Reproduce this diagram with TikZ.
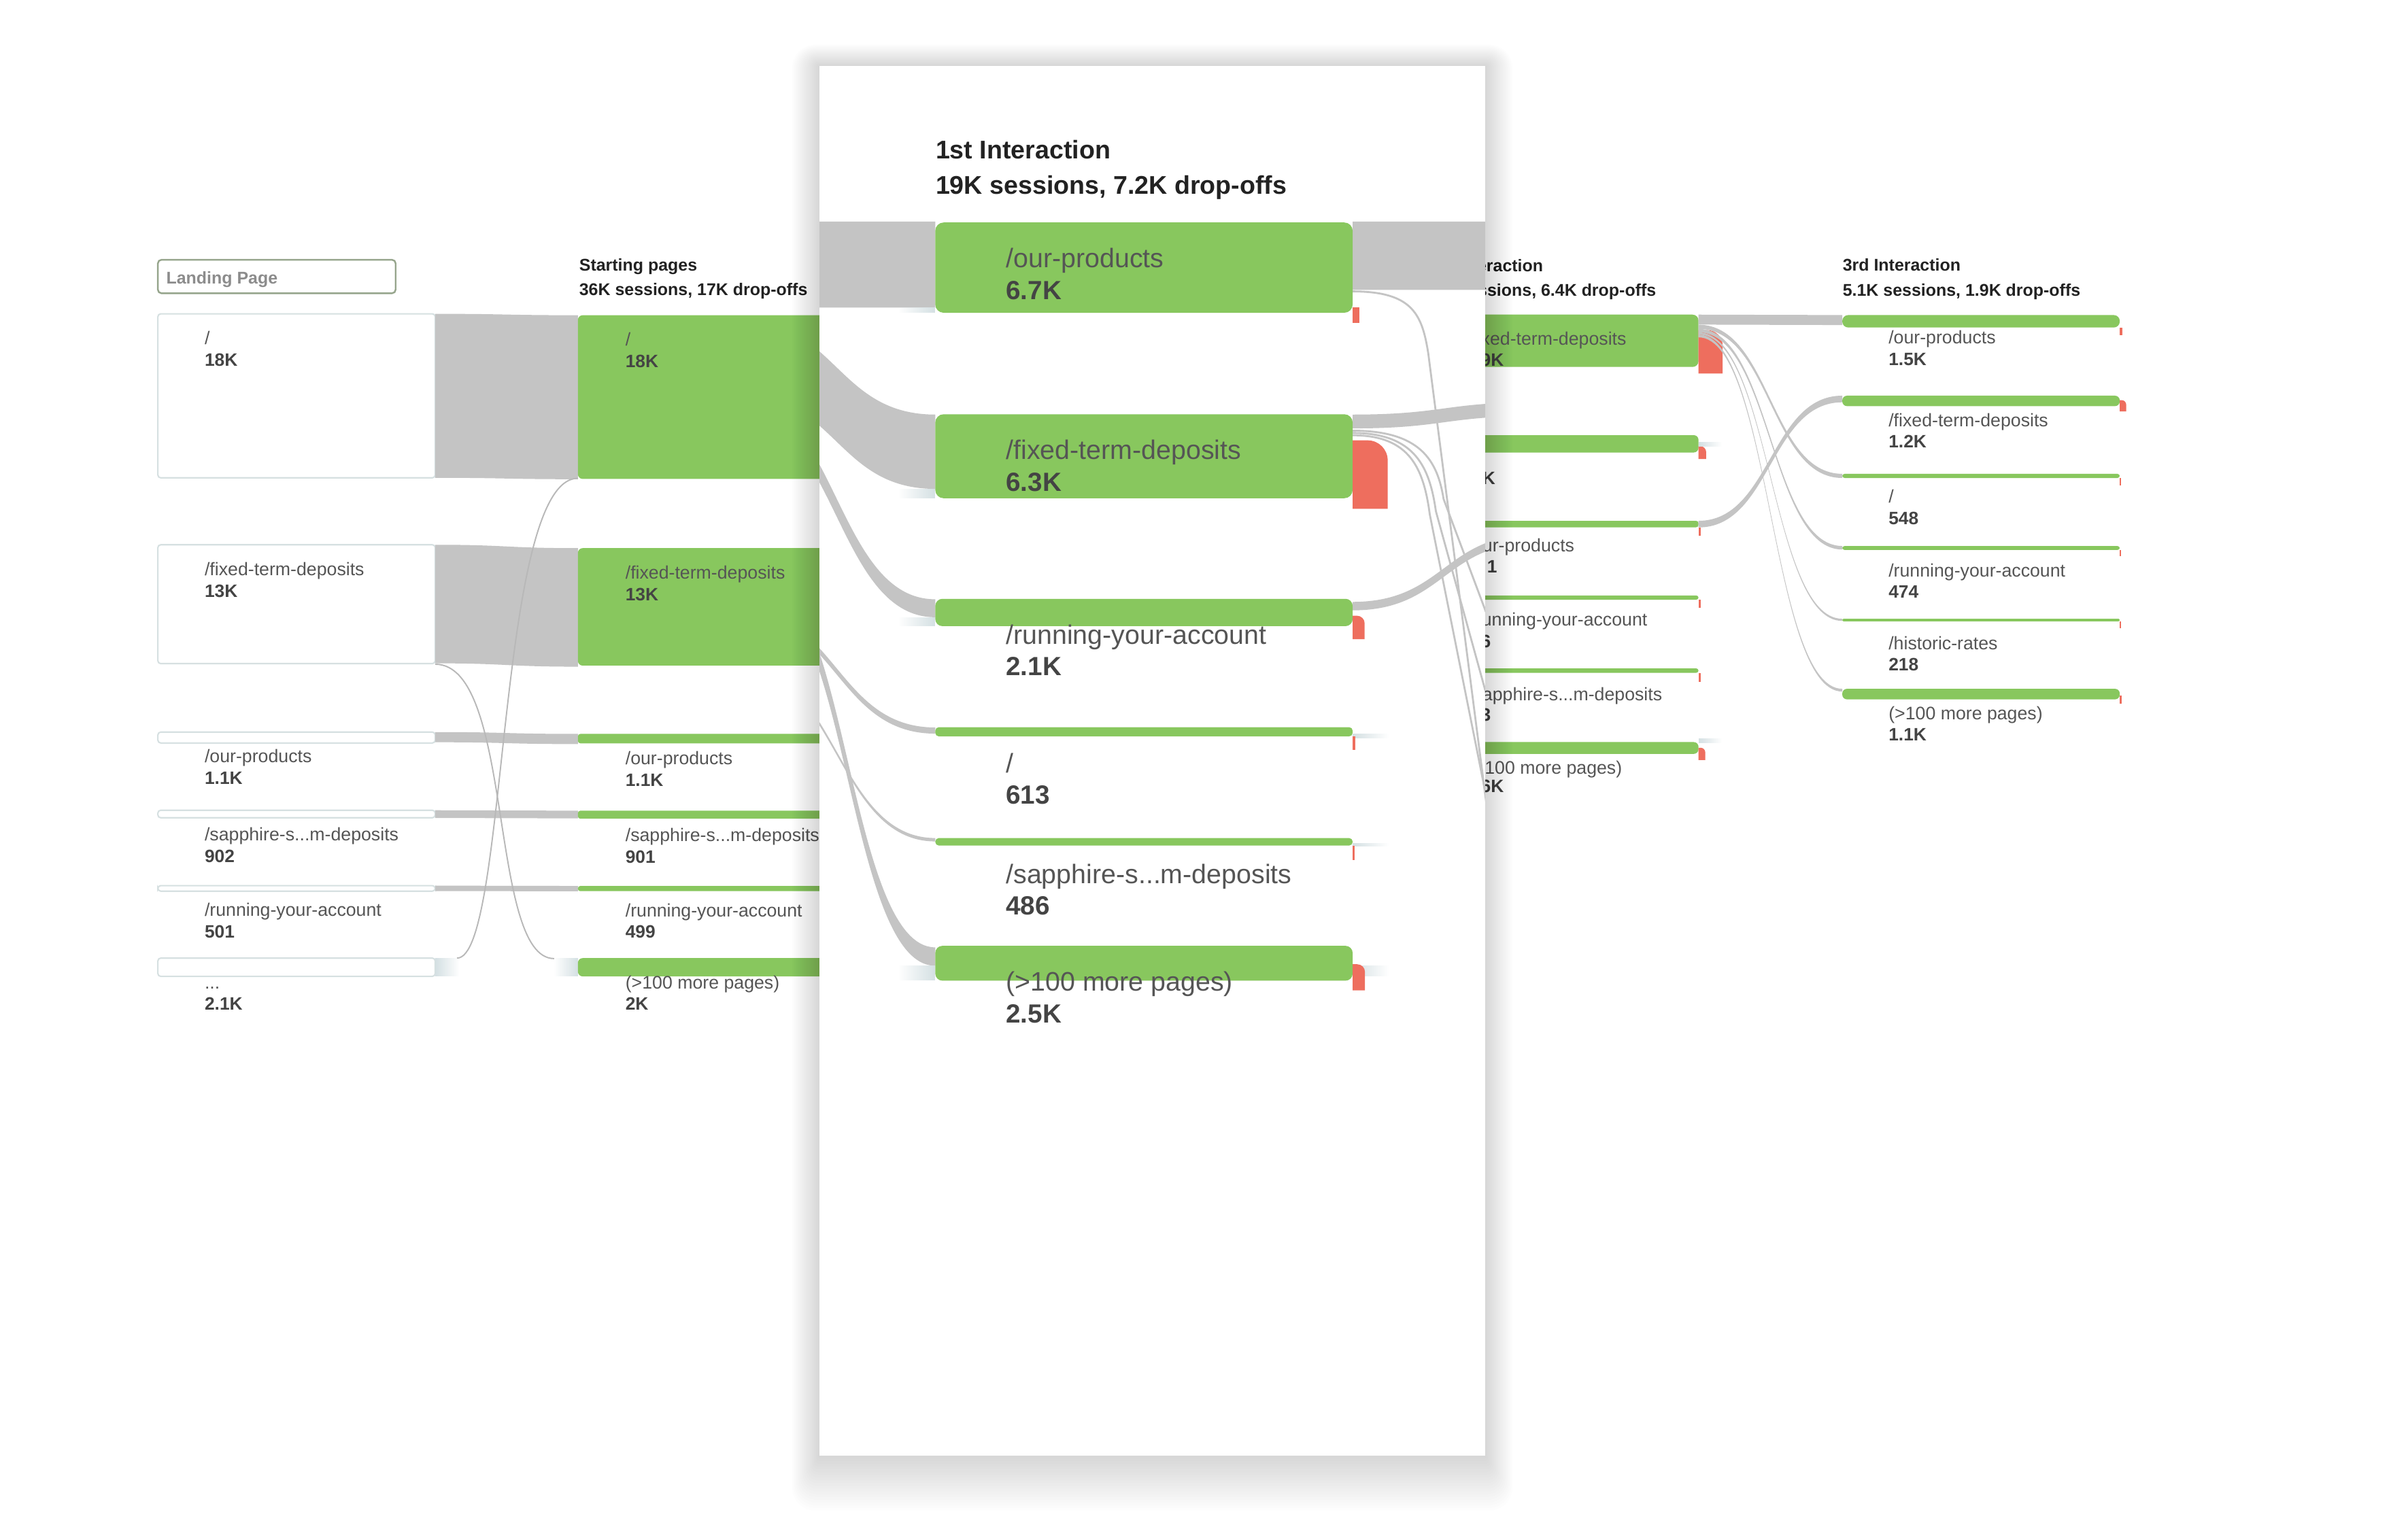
\documentclass[tikz,border=0pt]{standalone}
\usepackage{fontspec}
\setmainfont{Liberation Sans}
\usepackage{tikz}
\usetikzlibrary{fadings}

\definecolor{gabar}{RGB}{136,199,94}
\definecolor{galink}{RGB}{196,196,196}
\definecolor{gadrop}{RGB}{238,110,94}
\definecolor{gatext}{RGB}{85,85,85}
\definecolor{ganum}{RGB}{68,68,68}
\definecolor{gahead}{RGB}{34,34,34}
\definecolor{gaframe}{RGB}{214,224,225}
\definecolor{gastub}{RGB}{212,224,227}
\definecolor{selframe}{RGB}{150,165,140}
\definecolor{seltext}{RGB}{140,140,140}

% label and count under a bar (top of bar given)
\newcommand\pagetext[5]{%
	\node[lbl] (#1) at (#2,#3+20) {#4};
	\node[num] (#1n) at (#2,#3+34) {#5};}
\newcommand\bigtext[5]{%
	\node[biglbl] (#1) at (#2,#3+29.5) {#4};
	\node[bignum] (#1n) at (#2,#3+50) {#5};}
% flow ribbon: x0, top0, x1, top1, width
\newcommand\ribbon[5]{%
	\fill[galink] (#1,#2) .. controls ({(#1+#3)/2},#2) and ({(#1+#3)/2},#4) .. (#3,#4)
		-- (#3,#4+#5) .. controls ({(#1+#3)/2},#4+#5) and ({(#1+#3)/2},#2+#5) .. (#1,#2+#5) -- cycle;}
% drop-off piece: x0, top, x1, bottom, radius
\newcommand\dropoff[5]{%
	\fill[gadrop] (#1,#4) -- (#1,#2) -- ({#3-#5},#2) .. controls ({#3-0.45*#5},#2) and (#3,{#2+0.45*#5}) .. (#3,{#2+#5}) -- (#3,#4) -- cycle;}

\begin{document}
\begin{tikzpicture}[x=0.022583cm, y=-0.022583cm]
\tikzset{
	lbl/.style = {anchor=base west, inner sep=0, text=gatext, font=\fontsize{7.6}{9}\selectfont},
	num/.style = {anchor=base west, inner sep=0, text=ganum, font=\bfseries\fontsize{7.5}{9}\selectfont},
	hdr/.style = {anchor=base west, inner sep=0, text=gahead, font=\bfseries\fontsize{7.1}{9}\selectfont},
	biglbl/.style = {anchor=base west, inner sep=0, text=gatext, font=\fontsize{11.2}{13}\selectfont},
	bignum/.style = {anchor=base west, inner sep=0, text=ganum, font=\bfseries\fontsize{11}{13}\selectfont},
	bighdr/.style = {anchor=base west, inner sep=0, text=gahead, font=\bfseries\fontsize{10.7}{13}\selectfont},
	whitebox/.style = {fill=white, draw=gaframe, line width=0.6pt, rounded corners=1.2pt},
	greenbar/.style = {fill=gabar, rounded corners=#1},
	greenbar/.default = 1pt,
	thinlink/.style = {draw=galink, line width=0.8pt},
	crosslink/.style = {draw=black!28, line width=0.55pt},
	stubeast/.style = {fill=gastub, path fading=east},
	stubwest/.style = {fill=gastub, path fading=west}
}
\useasboundingbox (0,0) rectangle (1568,992.8);
\fill[white] (0,0) rectangle (1568,992.8);

% landing pages
\draw[fill=white, draw=selframe, line width=0.7pt, rounded corners=1.5pt] (102.8,169.2) rectangle (257.6,191);
\node[hdr, text=seltext] (sel) at (108,185) {Landing Page};
\draw[whitebox] (102.8,204.4) rectangle (283.4,311.2);
\draw[whitebox] (102.8,354.8) rectangle (283.4,432.2);
\draw[whitebox] (102.8,476.8) rectangle (283.4,483.9);
\draw[whitebox] (102.8,527.7) rectangle (283.4,532.6);
\draw[whitebox] (102.8,576.8) rectangle (283.4,580.4);
\draw[whitebox] (102.8,624) rectangle (283.4,635.9);
\pagetext{l1}{133}{204.4}{/}{18K}
\pagetext{l2}{133}{354.8}{/fixed-term-deposits}{13K}
\pagetext{l3}{133}{476.8}{/our-products}{1.1K}
\pagetext{l4}{133}{527.7}{/sapphire-s...m-deposits}{902}
\pagetext{l5}{133}{576.8}{/running-your-account}{501}
\pagetext{l6}{133}{624}{...}{2.1K}

\ribbon{283.4}{204.4}{376.3}{205.3}{106.8}
\ribbon{283.4}{354.8}{376.3}{357}{77.2}
\ribbon{283.4}{476.8}{376.3}{478}{6.6}
\ribbon{283.4}{527.7}{376.3}{528}{5}
\ribbon{283.4}{576.8}{376.3}{577}{3.5}
\fill[stubeast] (283.4,624) rectangle (299,635.9);
\fill[stubwest] (360.8,624) rectangle (376.3,635.9);
\draw[crosslink] (297.6,624) .. controls (331,624) and (323,311.5) .. (376.3,311.5);
\draw[crosslink] (283.4,432.6) .. controls (335,432.6) and (318,624.3) .. (360.8,624.3);

% starting pages
\node[hdr] (h1a) at (376.9,176.3) {Starting pages};
\node[hdr] (h1b) at (376.9,192.2) {36K sessions, 17K drop-offs};
\fill[greenbar=2pt] (376.3,205.3) rectangle (545,311.9);
\fill[greenbar=2pt] (376.3,357) rectangle (545,433.5);
\fill[greenbar] (376.3,478) rectangle (545,484.1);
\fill[greenbar] (376.3,528) rectangle (545,533.2);
\fill[greenbar] (376.3,577) rectangle (545,580.4);
\fill[greenbar=2pt] (376.3,624) rectangle (545,635.9);
\pagetext{s1}{407}{205.3}{/}{18K}
\pagetext{s2}{407}{357}{/fixed-term-deposits}{13K}
\pagetext{s3}{407}{478}{/our-products}{1.1K}
\pagetext{s4}{407}{528}{/sapphire-s...m-deposits}{901}
\pagetext{s5}{407}{577}{/running-your-account}{499}
\pagetext{s6}{407}{624}{(>100 more pages)}{2K}

% 2nd interaction (cut by the panel)
\node[hdr] (h2a) at (961.5,177) {eraction};
\node[hdr] (h2b) at (962,192.9) {ssions, 6.4K drop-offs};
\fill[greenbar=2.5pt] (950,204.9) rectangle (1106,239);
\fill[greenbar=2pt] (950,283.4) rectangle (1106,294.7);
\fill[greenbar] (950,339.2) rectangle (1106,343.4);
\fill[greenbar] (950,387.8) rectangle (1106,390.6);
\fill[greenbar] (950,435.3) rectangle (1106,438.2);
\fill[greenbar=2pt] (950,483.3) rectangle (1106,491);
\dropoff{1106}{215}{1121.7}{243.3}{10}
\dropoff{1106}{290.5}{1111}{298.9}{4}
\fill[gadrop] (1106,343.4) rectangle (1107.3,349);
\fill[gadrop] (1106,390.6) rectangle (1107.5,396);
\fill[gadrop] (1106,438.2) rectangle (1107.5,444);
\dropoff{1106}{487}{1110.4}{495}{3}
\fill[stubeast] (1106,288) rectangle (1121,291);
\fill[stubeast] (1106,481) rectangle (1121,484);
\node[lbl] (t1) at (964,224.6) {xed-term-deposits};
\node[num] (t1n) at (964,238.5) {9K};
\node[num] (t2n) at (965,315.7) {K};
\node[lbl] (t3) at (965,359.5) {ur-products};
\node[num] (t3n) at (968,372.9) {1};
\node[lbl] (t4) at (964.5,407.5) {unning-your-account};
\node[num] (t4n) at (964,421.9) {6};
\node[lbl] (t5) at (965,456.2) {apphire-s...m-deposits};
\node[num] (t5n) at (964,469.8) {3};
\node[lbl] (t6) at (966.5,504.2) {100 more pages)};
\node[num] (t6n) at (964,516.2) {6K};

% 3rd interaction
\node[hdr] (h3a) at (1199.6,176.5) {3rd Interaction};
\node[hdr] (h3b) at (1199.6,193) {5.1K sessions, 1.9K drop-offs};
\ribbon{1106}{204.9}{1199.6}{205.2}{6.5}
\ribbon{1106}{211.5}{1199.6}{308.6}{2.7}
\ribbon{1106}{214.2}{1199.6}{355.6}{2.3}
\ribbon{1106}{216.5}{1199.6}{403}{1.4}
\ribbon{1106}{217.9}{1199.6}{448.6}{1.8}
\ribbon{1106}{339.2}{1199.6}{257.7}{4.3}
\fill[greenbar=2.5pt] (1199.6,205.2) rectangle (1380.3,213.3);
\fill[greenbar=2pt] (1199.6,257.7) rectangle (1380.3,264.5);
\fill[greenbar] (1199.6,308.6) rectangle (1380.3,311.3);
\fill[greenbar] (1199.6,355.6) rectangle (1380.3,358.2);
\fill[greenbar=0.5pt] (1199.6,403) rectangle (1380.3,404.7);
\fill[greenbar=2pt] (1199.6,448.6) rectangle (1380.3,455.5);
\fill[gadrop] (1380.3,213.3) rectangle (1382,218.5);
\dropoff{1380.3}{260.6}{1384.5}{268}{3}
\fill[gadrop] (1380.3,311.3) rectangle (1381.3,316);
\fill[gadrop] (1380.3,358.2) rectangle (1381.3,362);
\fill[gadrop] (1380.3,404.7) rectangle (1381.3,409);
\fill[gadrop] (1380.3,453) rectangle (1381.5,458.5);
\pagetext{u1}{1229.5}{204}{/our-products}{1.5K}
\pagetext{u2}{1229.5}{257.7}{/fixed-term-deposits}{1.2K}
\pagetext{u3}{1229.5}{307.5}{/}{548}
\pagetext{u4}{1229.5}{355.6}{/running-your-account}{474}
\pagetext{u5}{1229.5}{403}{/historic-rates}{218}
\pagetext{u6}{1229.5}{448.6}{(>100 more pages)}{1.1K}

% soft shadow of the zoomed panel
\foreach \r in {1,...,20} {
	\fill[black, opacity=0.008, rounded corners=\r*0.5pt] ({533.6-0.9*\r},{43-0.7*\r}) rectangle ({967+0.9*\r},{948+1.8*\r});
}
\fill[white] (533.6,43) rectangle (967,948);

% 1st interaction, zoomed
\begin{scope}
\clip (533.6,43) rectangle (967,948);
\node[bighdr] (p0a) at (609,103.5) {1st Interaction};
\node[bighdr] (p0b) at (609,126.4) {19K sessions, 7.2K drop-offs};

\ribbon{520}{144.3}{609}{144.3}{56}
\ribbon{480}{208}{609}{270}{48.4}
\ribbon{480}{258}{609}{390.3}{11.7}
\ribbon{480}{396}{609}{473.8}{4}
\ribbon{480}{432}{609}{545.8}{2.2}
\ribbon{495}{374}{609}{617}{12}
\fill[stubwest] (585,200.2) rectangle (609,203.7);
\fill[stubwest] (585,318.4) rectangle (609,324.5);
\fill[stubwest] (585,402) rectangle (609,407.8);
\fill[stubwest] (585,629) rectangle (609,638.7);

\ribbon{880.8}{144.3}{1000}{144.3}{44.5}
\ribbon{880.8}{270}{1000}{262}{9}
\ribbon{880.8}{392}{1000}{348}{5.5}
\draw[thinlink] (880.8,189.8) .. controls (920,189.8) and (926,205) .. (930,230) -- (970,540);
\draw[thinlink] (880.8,280.5) .. controls (925,280.5) and (936,300) .. (940,325) -- (970,405);
\draw[thinlink] (880.8,282) .. controls (922,282) and (931,305) .. (935,333) -- (970,460);
\draw[thinlink] (880.8,283.5) .. controls (918,283.5) and (927,305) .. (931,335) -- (970,530);
\fill[stubeast] (880.8,478) rectangle (904,481);
\fill[stubeast] (880.8,549) rectangle (904,551.5);
\fill[stubeast] (880.8,629) rectangle (904,636);

\fill[greenbar=3.5pt] (609,144.9) rectangle (880.8,203.7);
\fill[greenbar=3.5pt] (609,269.8) rectangle (880.8,324.5);
\fill[greenbar=3pt] (609,390) rectangle (880.8,407.8);
\fill[greenbar=1.5pt] (609,473.6) rectangle (880.8,479.6);
\fill[greenbar=1.5pt] (609,545.8) rectangle (880.8,550.7);
\fill[greenbar=3pt] (609,616) rectangle (880.8,638.7);
\fill[gadrop] (880.8,200.2) rectangle (885.3,210.5);
\dropoff{880.8}{286.8}{903.6}{331.4}{13}
\dropoff{880.8}{401}{888.6}{416.3}{5}
\fill[gadrop] (880.8,479.6) rectangle (882.3,488.5);
\fill[gadrop] (880.8,550.7) rectangle (882,560);
\dropoff{880.8}{628}{888.8}{645}{5}

\bigtext{p1}{654.8}{144.9}{/our-products}{6.7K}
\bigtext{p2}{654.8}{269.8}{/fixed-term-deposits}{6.3K}
\bigtext{p3}{654.8}{390}{/running-your-account}{2.1K}
\bigtext{p4}{654.8}{473.6}{/}{613}
\bigtext{p5}{654.8}{545.8}{/sapphire-s...m-deposits}{486}
\bigtext{p6}{654.8}{616}{(>100 more pages)}{2.5K}
\end{scope}
\end{tikzpicture}
\end{document}
